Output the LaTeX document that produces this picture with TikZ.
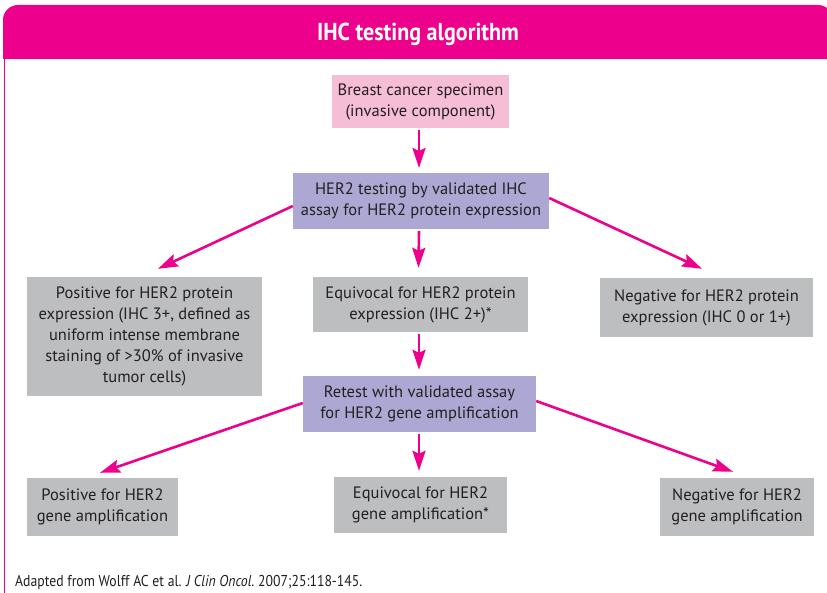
\documentclass[tikz,border=0pt]{standalone}
\usepackage{fontspec}
\setmainfont{PT Sans}
\newfontfamily\titlefont[FakeStretch=0.9]{PT Sans Bold}
\newfontfamily\footfont[FakeStretch=0.875]{PT Sans}
\usetikzlibrary{arrows.meta,calc}
\definecolor{hdrpink}{HTML}{EC008C}
\definecolor{lightpink}{HTML}{F5BED6}
\definecolor{lavender}{HTML}{ADA8D3}
\definecolor{boxgray}{HTML}{BDBEC0}
\definecolor{txt}{HTML}{231F20}
\tikzset{
  box/.style={inner sep=0pt, align=center, text=txt, font=\fontsize{16.5}{21}\selectfont},
  conn/.style={draw=hdrpink, line width=2.6pt, -{Stealth[length=20pt,width=13pt,inset=3pt]}},
}
\begin{document}
\begin{tikzpicture}[x=1pt,y=-1pt]
\useasboundingbox (0,0) rectangle (827,593);
\clip (0,0) rectangle (827,593);
\fill[white] (0,0) rectangle (827,593);
% header
\fill[hdrpink] (3,59) -- (3,20) arc[start angle=180,end angle=90,radius=15pt] -- (818,5)
  arc[start angle=90,end angle=0,radius=15pt] -- (833,59) -- cycle;
\draw[hdrpink, line width=1.3pt] (4.5,59) -- (4.5,593);
\node[text=white, font=\titlefont\fontsize{24.5}{27}\selectfont] (title) at (418,34) {IHC testing algorithm};
% boxes
\node[box, fill=lightpink, minimum width=177pt, minimum height=53pt] (spec) at (420.5,101.5)
  {Breast cancer specimen\\(invasive component)};
\node[box, fill=lavender, minimum width=256pt, minimum height=56pt] (ihc) at (421,201)
  {HER2 testing by validated IHC\\assay for HER2 protein expression};
\node[box, fill=boxgray, minimum width=235pt, minimum height=119pt] (pos) at (144.5,336.5)
  {Positive for HER2 protein\\expression (IHC 3+, defined as\\uniform intense membrane\\staining of >30\% of invasive\\tumor cells)};
\node[box, fill=boxgray, minimum width=215pt, minimum height=55pt] (equ) at (420.5,304.5)
  {Equivocal for HER2 protein\\expression (IHC 2+)*};
\node[box, fill=boxgray, minimum width=213pt, minimum height=59pt] (neg) at (706.5,307.5)
  {Negative for HER2 protein\\expression (IHC 0 or 1+)};
\node[box, fill=lavender, minimum width=233pt, minimum height=56pt] (retest) at (419.5,404)
  {Retest with validated assay\\for HER2 gene amplification};
\node[box, fill=boxgray, minimum width=151pt, minimum height=58pt] (posg) at (102.5,507)
  {Positive for HER2\\gene amplification};
\node[box, fill=boxgray, minimum width=173pt, minimum height=56pt] (equg) at (420.5,505)
  {Equivocal for HER2\\gene amplification*};
\node[box, fill=boxgray, minimum width=154pt, minimum height=58pt] (negg) at (737,507)
  {Negative for HER2\\gene amplification};
% footer
\node[anchor=base west, inner sep=0pt, text=txt, font=\footfont\fontsize{15.7}{19}\selectfont] (foot) at (15,586)
  {Adapted from Wolff AC et al. \textit{J Clin Oncol.}\ 2007;25:118-145.};
% connectors
\coordinate (a1s) at (419,130);
\coordinate (a1e) at (419,168);
\draw[conn] (a1s) -- (a1e);
\draw[conn] ([yshift=-5pt]ihc.west) -- ([xshift=13.5pt,yshift=8pt]pos.north);
\draw[conn] ([xshift=-2pt,yshift=-2pt]ihc.south) -- ([xshift=-2pt,yshift=9pt]equ.north);
\draw[conn] ([yshift=3pt]ihc.east) -- ([xshift=-4.5pt,yshift=9pt]neg.north);
\draw[conn] ([xshift=-1.5pt,yshift=-2pt]equ.south) -- ([xshift=-0.5pt,yshift=6pt]retest.north);
\draw[conn] ([yshift=1pt]retest.west) -- ([xshift=-2.5pt,yshift=5pt]posg.north);
\draw[conn] ([yshift=3pt]retest.east) -- ([xshift=-4pt,yshift=6pt]negg.north);
\draw[conn] ([xshift=-0.5pt,yshift=-2pt]retest.south) -- ([xshift=-1.5pt,yshift=6pt]equg.north);
\end{tikzpicture}
\end{document}
